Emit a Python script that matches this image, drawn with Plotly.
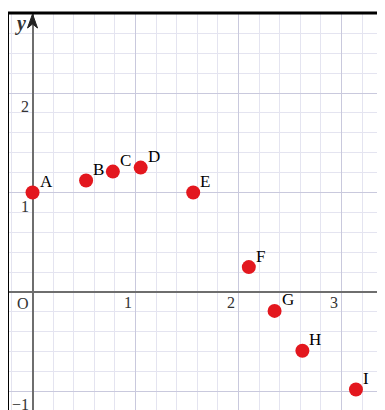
import plotly.graph_objects as go

# points
names = ["A", "B", "C", "D", "E", "F", "G", "H", "I"]
xs = [0, 0.52, 0.78, 1.05, 1.56, 2.1, 2.35, 2.62, 3.14]
ys = [1.0, 1.12, 1.21, 1.25, 1.0, 0.25, -0.19, -0.59, -0.98]

# tick labels drawn inside the grid
xtick_vals = [1, 2, 3]
xtick_text = ["1", "2", "3"]
ytick_vals = [2, 1, -1]
ytick_text = ["2", "1", "\u22121"]

serif = "Liberation Serif"

fig = go.Figure()
fig.add_trace(go.Scatter(
    x=xs, y=ys, mode="markers",
    marker=dict(size=14, color="#e3171e"),
    cliponaxis=False, showlegend=False,
))

anns = []
# point names, up and right of each dot
for n, x, y in zip(names, xs, ys):
    anns.append(dict(x=x, y=y, text=n, showarrow=False, xanchor="left", yanchor="middle",
                     xshift=5, yshift=11, font=dict(family=serif, size=17, color="black")))
for v, t in zip(xtick_vals, xtick_text):
    anns.append(dict(x=v, y=0, text=t, showarrow=False, xanchor="right", yanchor="top",
                     xshift=-2, yshift=0, font=dict(family=serif, size=16, color="#333")))
for v, t in zip(ytick_vals, ytick_text):
    anns.append(dict(x=0, y=v, text=t, showarrow=False, xanchor="right", yanchor="top",
                     xshift=-2, yshift=-3, font=dict(family=serif, size=16, color="#333")))
anns.append(dict(x=0, y=0, text="O", showarrow=False, xanchor="right", yanchor="top",
                 xshift=-2, yshift=-1, font=dict(family=serif, size=16, color="#333")))
anns.append(dict(x=0, y=1, yref="paper", text="<i><b>y</b></i>", showarrow=False,
                 xanchor="right", yanchor="top", xshift=-5, yshift=3,
                 font=dict(family=serif, size=20, color="#333")))

# the page adds an 8px body margin, so the margins here are 8px smaller
fig.update_layout(
    width=377, height=402,
    margin=dict(l=0, r=0, t=5, b=0),
    paper_bgcolor="white", plot_bgcolor="white",
    annotations=anns,
    shapes=[
        dict(type="line", xref="paper", yref="paper", x0=0, x1=1, y0=1, y1=1,
             line=dict(color="black", width=3)),
        dict(type="line", xref="paper", yref="paper", x0=0, x1=0, y0=0, y1=1,
             line=dict(color="black", width=2)),
        dict(type="path", xref="x", yref="paper", xsizemode="pixel", ysizemode="pixel",
             xanchor=0, yanchor=1, path="M0,-1 L-5,-15 L0,-11 L5,-15 Z",
             fillcolor="#222", line=dict(color="#222", width=1)),
    ],
)
fig.update_xaxes(
    range=[-0.238, 3.422], showticklabels=False, ticks="",
    dtick=1, tick0=0, showgrid=True, gridcolor="#c9c9dd", gridwidth=1,
    minor=dict(dtick=0.2, tick0=0, showgrid=True, gridcolor="#e4e4f0", gridwidth=1),
    zeroline=True, zerolinecolor="#6e6e6e", zerolinewidth=2, showline=False,
)
fig.update_yaxes(
    range=[-1.186, 2.804], showticklabels=False, ticks="",
    dtick=1, tick0=0, showgrid=True, gridcolor="#c9c9dd", gridwidth=1,
    minor=dict(dtick=0.2, tick0=0, showgrid=True, gridcolor="#e4e4f0", gridwidth=1),
    zeroline=True, zerolinecolor="#6e6e6e", zerolinewidth=2, showline=False,
)

fig.write_html("out.html")
